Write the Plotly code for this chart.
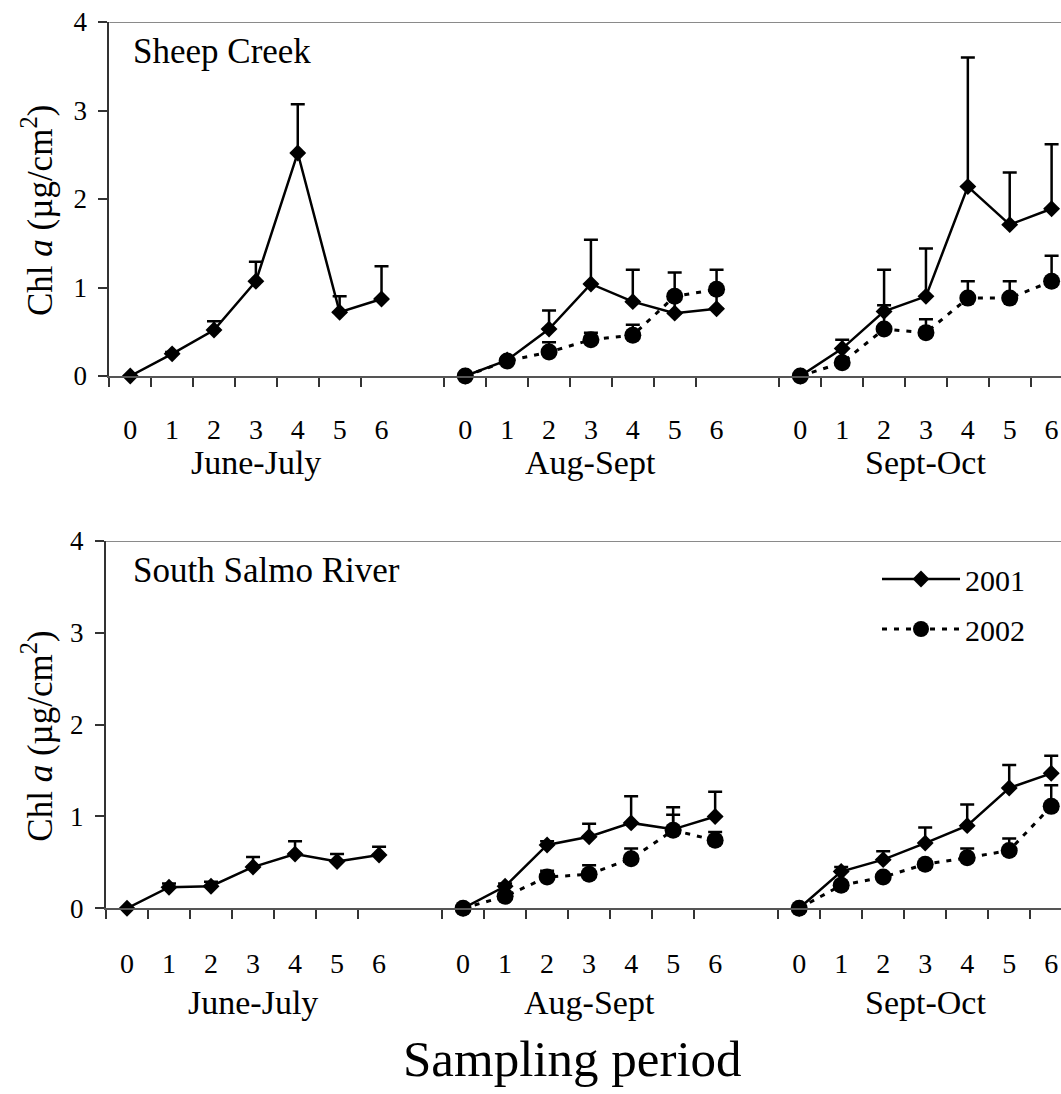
import plotly.graph_objects as go

# Sampling periods and sampling days within each period
periods = ["June-July", "Aug-Sept", "Sept-Oct"]
days = [0, 1, 2, 3, 4, 5, 6]
years = ["2001", "2002"]

# Sheep Creek, chlorophyll a (µg/cm²): mean and +1 SE per day
sheep_2001_jun = [0.00, 0.25, 0.52, 1.07, 2.52, 0.72, 0.87]
sheep_2001_jun_se = [0.00, 0.02, 0.10, 0.22, 0.55, 0.18, 0.37]
sheep_2001_aug = [0.00, 0.18, 0.53, 1.04, 0.84, 0.71, 0.76]
sheep_2001_aug_se = [0.00, 0.03, 0.21, 0.50, 0.36, 0.20, 0.18]
sheep_2001_sep = [0.00, 0.31, 0.73, 0.90, 2.14, 1.71, 1.89]
sheep_2001_sep_se = [0.00, 0.10, 0.47, 0.54, 1.46, 0.59, 0.73]

sheep_2002_aug = [0.00, 0.17, 0.27, 0.41, 0.46, 0.90, 0.98]
sheep_2002_aug_se = [0.00, 0.02, 0.11, 0.08, 0.12, 0.27, 0.22]
sheep_2002_sep = [0.00, 0.15, 0.53, 0.49, 0.88, 0.88, 1.07]
sheep_2002_sep_se = [0.00, 0.04, 0.27, 0.15, 0.19, 0.19, 0.29]

# South Salmo River, chlorophyll a (µg/cm²): mean and +1 SE per day
salmo_2001_jun = [0.00, 0.23, 0.24, 0.45, 0.59, 0.51, 0.58]
salmo_2001_jun_se = [0.00, 0.04, 0.05, 0.11, 0.14, 0.08, 0.09]
salmo_2001_aug = [0.00, 0.24, 0.69, 0.78, 0.93, 0.86, 1.00]
salmo_2001_aug_se = [0.00, 0.03, 0.04, 0.14, 0.29, 0.24, 0.27]
salmo_2001_sep = [0.00, 0.40, 0.53, 0.71, 0.90, 1.31, 1.47]
salmo_2001_sep_se = [0.00, 0.05, 0.09, 0.17, 0.23, 0.25, 0.19]

salmo_2002_aug = [0.00, 0.13, 0.34, 0.37, 0.54, 0.85, 0.74]
salmo_2002_aug_se = [0.00, 0.02, 0.07, 0.10, 0.11, 0.17, 0.09]
salmo_2002_sep = [0.00, 0.25, 0.34, 0.48, 0.55, 0.63, 1.11]
salmo_2002_sep_se = [0.00, 0.03, 0.03, 0.03, 0.10, 0.13, 0.23]

FONT = "Liberation Serif"
W, H = 1061, 1094
SLOT = len(days) + 1  # one empty slot between periods


def series(per_period):
    """Flatten (mean, se) per period onto one slot axis, breaking lines between periods."""
    xs, ys, es = [], [], []
    for p, pair in enumerate(per_period):
        if pair is None:
            continue
        mean, se = pair
        xs += [p * SLOT + d for d in days] + [p * SLOT + len(days)]
        ys += list(mean) + [None]
        es += list(se) + [0]
    return xs, ys, es


panels = [
    dict(name="Sheep Creek", xa="x", ya="y",
         data={"2001": [(sheep_2001_jun, sheep_2001_jun_se),
                        (sheep_2001_aug, sheep_2001_aug_se),
                        (sheep_2001_sep, sheep_2001_sep_se)],
               "2002": [None,
                        (sheep_2002_aug, sheep_2002_aug_se),
                        (sheep_2002_sep, sheep_2002_sep_se)]},
         left=109.3, top=22, bottom=376, slot=41.88,
         standoff=27, period_gap=86),
    dict(name="South Salmo River", xa="x2", ya="y2",
         data={"2001": [(salmo_2001_jun, salmo_2001_jun_se),
                        (salmo_2001_aug, salmo_2001_aug_se),
                        (salmo_2001_sep, salmo_2001_sep_se)],
               "2002": [None,
                        (salmo_2002_aug, salmo_2002_aug_se),
                        (salmo_2002_sep, salmo_2002_sep_se)]},
         left=106.0, top=541, bottom=908.3, slot=42.01,
         standoff=29, period_gap=94),
]

styles = {
    "2001": dict(line=dict(color="black", width=2.5),
                 marker=dict(symbol="diamond", size=13, color="black")),
    "2002": dict(line=dict(color="black", width=3, dash="5px,7px"),
                 marker=dict(symbol="circle", size=17, color="black")),
}

fig = go.Figure()

centers = [p * SLOT + d for p in range(len(periods)) for d in days]
boundaries = [c - 0.5 for c in centers] + [centers[-1] + 0.5]
ticktext = [str(d) for _ in periods for d in days]

annotations = []
shapes = []
layout_axes = {}

for i, pn in enumerate(panels):
    for yr in years:
        xs, ys, es = series(pn["data"][yr])
        fig.add_trace(go.Scatter(
            x=xs, y=ys, mode="lines+markers", name=yr,
            xaxis=pn["xa"], yaxis=pn["ya"],
            showlegend=(i == 1), legendgroup=yr, cliponaxis=False,
            error_y=dict(type="data", symmetric=False, array=es,
                         arrayminus=[0] * len(es), color="black",
                         thickness=2.5, width=7),
            **styles[yr],
        ))

    x0 = pn["left"] / W
    y0 = 1 - pn["bottom"] / H
    y1 = 1 - pn["top"] / H
    xmax = -0.5 + (W - pn["left"]) / pn["slot"]
    xkey = "xaxis" if i == 0 else "xaxis2"
    ykey = "yaxis" if i == 0 else "yaxis2"
    layout_axes[xkey] = dict(
        domain=[x0, 1], range=[-0.5, xmax], anchor=pn["ya"],
        showgrid=False, zeroline=False, showline=True,
        linecolor="#555", linewidth=2,
        tickmode="array", tickvals=centers, ticktext=ticktext, ticks="",
        ticklabelstandoff=pn["standoff"],
        tickfont=dict(family=FONT, size=28, color="black"),
        minor=dict(tickmode="array", tickvals=boundaries, ticks="outside",
                   ticklen=9, tickwidth=1.5, tickcolor="#333", showgrid=False),
        automargin=False,
    )
    layout_axes[ykey] = dict(
        domain=[y0, y1], range=[0, 4], anchor=pn["xa"],
        showgrid=False, zeroline=False, showline=True,
        linecolor="#333", linewidth=2,
        tickmode="array", tickvals=[0, 1, 2, 3, 4],
        ticks="outside", ticklen=9, tickwidth=1.5, tickcolor="#333",
        ticklabelstandoff=6,
        tickfont=dict(family=FONT, size=27, color="black"),
        automargin=False,
    )

    # top frame line of the panel
    shapes.append(dict(type="line", xref="paper", yref=pn["ya"],
                       x0=x0, x1=1, y0=4, y1=4,
                       line=dict(color="#8a8a8a", width=2)))

    # site label
    annotations.append(dict(text=pn["name"], xref="paper", yref="paper",
                            x=131 / W, y=1 - (pn["top"] + 29) / H,
                            xanchor="left", yanchor="middle", showarrow=False,
                            font=dict(family=FONT, size=35, color="black")))

    # y-axis title
    mid = (pn["top"] + pn["bottom"]) / 2 + 12
    annotations.append(dict(text="Chl <i>a</i> (µg/cm<sup>2</sup>)",
                            xref="paper", yref="paper",
                            x=38 / W, y=1 - mid / H, textangle=-90,
                            xanchor="center", yanchor="middle", showarrow=False,
                            font=dict(family=FONT, size=35, color="black")))

    # period labels under each group of days
    for p, label in enumerate(periods):
        annotations.append(dict(text=label, xref=pn["xa"], yref="paper",
                                x=p * SLOT + 3,
                                y=1 - (pn["bottom"] + pn["period_gap"]) / H,
                                xanchor="center", yanchor="middle", showarrow=False,
                                font=dict(family=FONT, size=34, color="black")))

annotations.append(dict(text="Sampling period", xref="paper", yref="paper",
                        x=572 / W, y=1 - 1059 / H, xanchor="center",
                        yanchor="middle", showarrow=False,
                        font=dict(family=FONT, size=51, color="black")))

fig.update_layout(
    width=W, height=H,
    margin=dict(l=0, r=0, t=0, b=0, autoexpand=False),
    paper_bgcolor="white", plot_bgcolor="white",
    font=dict(family=FONT, color="black"),
    showlegend=True,
    legend=dict(x=877 / W, y=1 - 553 / H, xanchor="left", yanchor="top",
                bgcolor="rgba(0,0,0,0)", itemwidth=78, tracegroupgap=8,
                font=dict(family=FONT, size=30, color="black")),
    annotations=annotations,
    shapes=shapes,
    **layout_axes,
)

fig.write_html("out.html")
